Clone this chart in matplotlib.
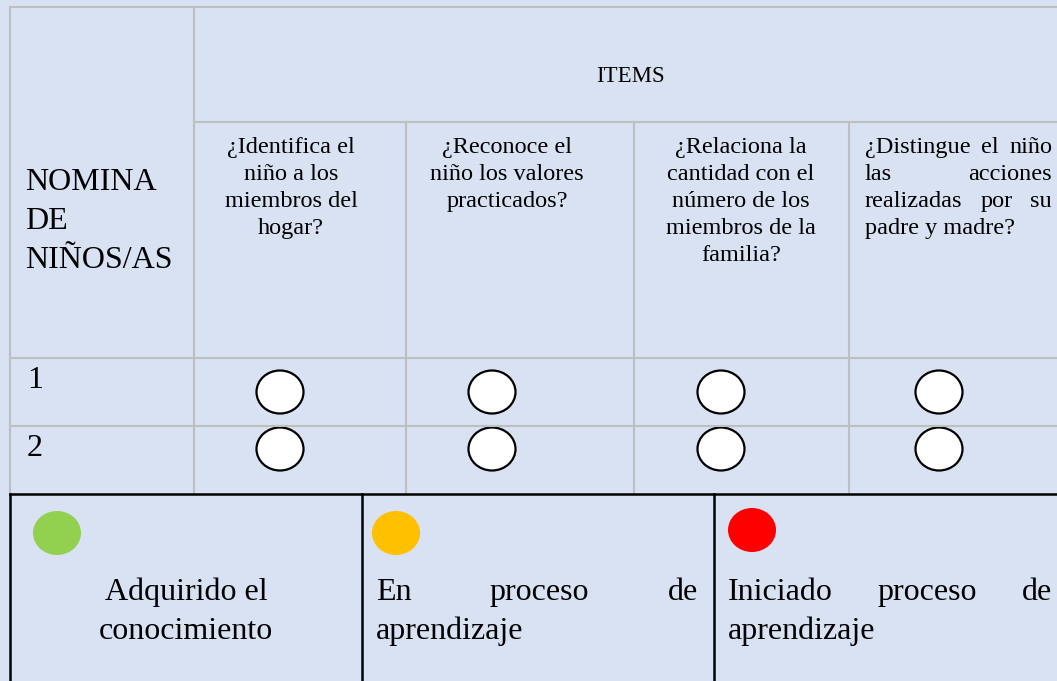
import matplotlib
matplotlib.use('Agg')
import matplotlib.pyplot as plt
from matplotlib.patches import Ellipse

# textos de la tabla
nomina = ['NOMINA', 'DE', 'NIÑOS/AS']
items_title = 'ITEMS'
items = [
    '¿Identifica el\nniño a los\nmiembros del\nhogar?',
    '¿Reconoce el\nniño los valores\npracticados?',
    '¿Relaciona la\ncantidad con el\nnúmero de los\nmiembros de la\nfamilia?',
    '¿Distingue el niño\nlas acciones\nrealizadas por su\npadre y madre?',
]
rows = ['1', '2']
legend_labels = ['Adquirido el\nconocimiento',
                 'En proceso de\naprendizaje',
                 'Iniciado proceso de\naprendizaje']
legend_colors = ['#92D050', '#FFC000', '#FF0000']

# geometria (pixeles)
W, H = 1057, 681
BG = '#D9E2F3'
GRID = '#BFBFBF'
FONT = 'Liberation Serif'
col_x = [10, 194, 406, 634, 849, W]
top_y, items_y, head_y = 7, 122, 358
row_y = [358, 426, 494]
item_cx = [291, 507, 741, None]
item_align = ['center', 'center', 'center', 'justify']
circle_cx = [280, 492, 721, 939]
circle_cy = [392, 449]
leg_x = [10, 362, 714, W]
leg_right = [None, 698, 1052]
leg_circ = [(57, 533), (396, 533), (752, 530)]

fig = plt.figure(figsize=(W / 100, H / 100), dpi=100, facecolor=BG)
ax = fig.add_axes([0, 0, 1, 1])
ax.set_xlim(0, W)
ax.set_ylim(H, 0)
ax.axis('off')
ax.set_facecolor(BG)
renderer = fig.canvas.get_renderer()


def txt(x, y, s, size, ha='left'):
    return ax.text(x, y, s, fontsize=size, family=FONT, ha=ha, va='baseline', color='black')


def justify(line, x0, x1, y, size):
    words = line.split()
    arts = [txt(0, y, w, size) for w in words]
    widths = [a.get_window_extent(renderer).width for a in arts]
    gap = (x1 - x0 - sum(widths)) / max(len(words) - 1, 1)
    x = x0
    for a, w in zip(arts, widths):
        a.set_x(x)
        x += w + gap


# lineas de la tabla
lw = 1.5
ax.plot([col_x[0], W], [top_y, top_y], color=GRID, lw=lw)
ax.plot([col_x[0], col_x[0]], [top_y, row_y[-1]], color=GRID, lw=lw)
ax.plot([col_x[1], col_x[1]], [top_y, row_y[-1]], color=GRID, lw=lw)
ax.plot([col_x[1], W], [items_y, items_y], color=GRID, lw=lw)
for cx in col_x[2:-1]:
    ax.plot([cx, cx], [items_y, row_y[-1]], color=GRID, lw=lw)
for ry in row_y[:-1]:
    ax.plot([col_x[0], W], [ry, ry], color=GRID, lw=lw)

# encabezados
for i, s in enumerate(nomina):
    txt(25, 190 + i * 39, s, 23)
txt(630, 82, items_title, 16.5, ha='center')

qsize = 17.5
for j, q in enumerate(items):
    lines = q.split('\n')
    for k, line in enumerate(lines):
        y = 153 + k * 27
        if item_align[j] == 'center':
            txt(item_cx[j], y, line, qsize, ha='center')
        elif k < len(lines) - 1:
            justify(line, 865, 1052, y, qsize)
        else:
            txt(865, y, line, qsize)

# filas con circulos
for i, r in enumerate(rows):
    txt(27, 388 + i * 68, r, 23)
    for j in range(len(items)):
        ax.add_patch(Ellipse((circle_cx[j], circle_cy[i]), 47, 43,
                             facecolor='white', edgecolor='black', lw=1.6))

# leyenda
blw = 1.8
ax.plot([leg_x[0], W], [row_y[-1], row_y[-1]], color='black', lw=blw)
for lx in leg_x[:-1]:
    ax.plot([lx, lx], [row_y[-1], H], color='black', lw=blw)

for i, (lab, c) in enumerate(zip(legend_labels, legend_colors)):
    ax.add_patch(Ellipse(leg_circ[i], 48, 44, facecolor=c, edgecolor='none'))
    lines = lab.split('\n')
    for k, line in enumerate(lines):
        y = 600 + k * 39
        if i == 0:
            txt((leg_x[0] + leg_x[1]) / 2, y, line, 23, ha='center')
        elif k < len(lines) - 1:
            justify(line, leg_x[i] + 14, leg_right[i], y, 23)
        else:
            txt(leg_x[i] + 14, y, line, 23)

fig.savefig('out.png', dpi=100, facecolor=BG)
